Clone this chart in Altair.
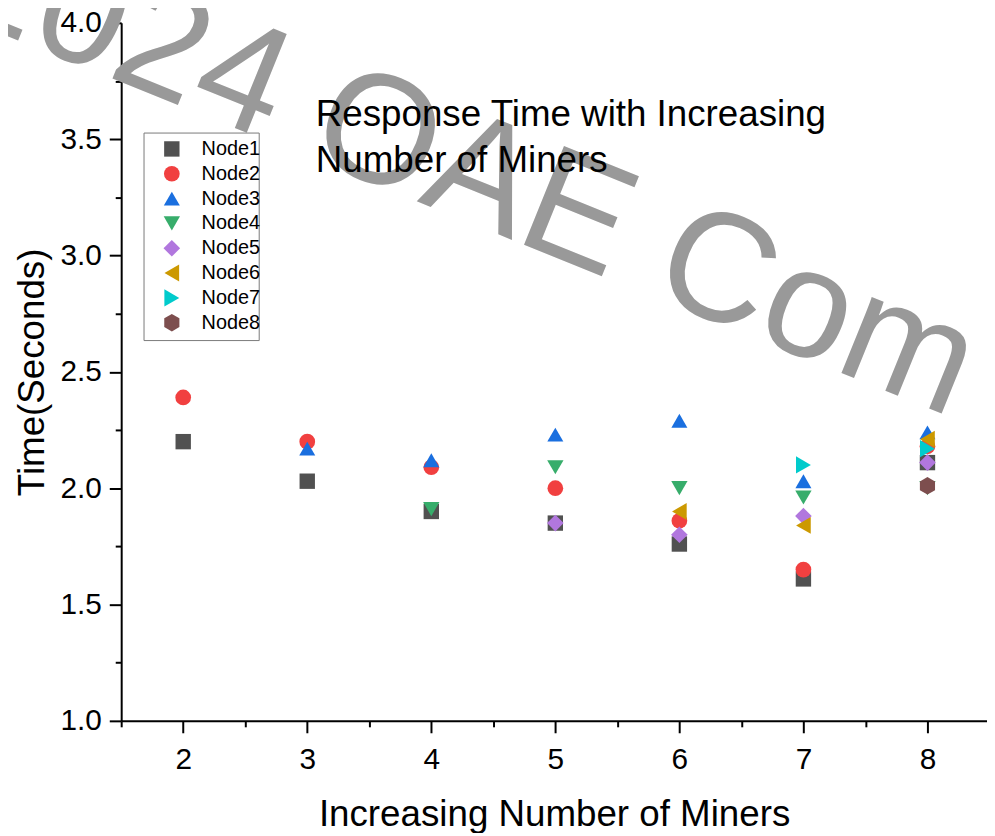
import altair as alt
import pandas as pd

# ---- data ----
miners = [2, 3, 4, 5, 6, 7, 8]
nodes = ["Node1", "Node2", "Node3", "Node4", "Node5", "Node6", "Node7", "Node8"]
node1 = [2.20, 2.03, 1.90, 1.85, 1.76, 1.61, 2.11]   # miners 2..8
node2 = [2.39, 2.20, 2.09, 2.00, 1.86, 1.65, 2.18]   # miners 2..8
node3 = [2.17, 2.12, 2.23, 2.29, 2.03, 2.24]         # miners 3..8
node4 = [1.91, 2.09, 2.00, 1.96, 2.00]               # miners 4..8
node5 = [1.85, 1.80, 1.88, 2.11]                     # miners 5..8
node6 = [1.90, 1.84, 2.21]                           # miners 6..8
node7 = [2.10, 2.17]                                 # miners 7..8
node8 = [2.01]                                       # miners 8

colors = ["#515151", "#F14040", "#1A6FDF", "#37AD6B", "#B177DE", "#CC9900", "#00CBCC", "#7D4E4E"]
hexagon = "M0,-1L0.866,-0.5L0.866,0.5L0,1L-0.866,0.5L-0.866,-0.5Z"
shapes = ["square", "circle", "triangle-up", "triangle-down", "diamond", "triangle-left", "triangle-right", hexagon]
sizes = [240, 310, 430, 430, 470, 430, 430, 520]

x_major = [2, 3, 4, 5, 6, 7, 8]
x_minor = [1.5, 2.5, 3.5, 4.5, 5.5, 6.5, 7.5]
y_major = [1.0, 1.5, 2.0, 2.5, 3.0, 3.5, 4.0]
y_minor = [1.25, 1.75, 2.25, 2.75, 3.25, 3.75]

title_text = "Response Time with Increasing\nNumber of Miners"
watermark = "2024 OAE Com"

series = [node1, node2, node3, node4, node5, node6, node7, node8]
rows = []
for name, vals in zip(nodes, series):
    xs = miners[len(miners) - len(vals):]
    for m, v in zip(xs, vals):
        rows.append({"miners": m, "time": v, "node": name})
df = pd.DataFrame(rows)

FONT = "Liberation Sans"
W, H = 872, 703
xscale = alt.Scale(domain=[1.5, 8.48], nice=False, zero=False)
yscale = alt.Scale(domain=[1.0, 4.0], nice=False, zero=False)

legend = alt.Legend(
    title=None, orient="none", legendX=41, legendY=117, padding=0,
    labelFont=FONT, labelFontSize=20, labelColor="black",
    symbolSize=300, rowPadding=5, symbolOffset=0, labelOffset=20,
    symbolStrokeWidth=0,
)

points = alt.Chart(df).mark_point(filled=True, opacity=1, strokeWidth=0).encode(
    x=alt.X("miners:Q", scale=xscale,
            axis=alt.Axis(values=x_major, format="d", orient="bottom",
                          title="Increasing Number of Miners",
                          labelPadding=12, titlePadding=22, titleFontSize=37)),
    y=alt.Y("time:Q", scale=yscale,
            axis=alt.Axis(values=y_major, format=".1f", orient="left",
                          title="Time(Seconds)", labelPadding=8, titlePadding=9,
                          titleFontSize=37)),
    color=alt.Color("node:N", scale=alt.Scale(domain=nodes, range=colors), legend=legend),
    shape=alt.Shape("node:N", scale=alt.Scale(domain=nodes, range=shapes), legend=legend),
    size=alt.Size("node:N", scale=alt.Scale(domain=nodes, range=sizes), legend=None),
)

minor = alt.Chart(df).mark_point(opacity=0).encode(
    x=alt.X("miners:Q", scale=xscale,
            axis=alt.Axis(values=x_minor, labels=False, domain=False, tickSize=6,
                          title=None, orient="bottom")),
    y=alt.Y("time:Q", scale=yscale,
            axis=alt.Axis(values=y_minor, labels=False, domain=False, tickSize=6,
                          title=None, orient="left")),
)

wm = alt.Chart(pd.DataFrame({"t": [watermark]})).mark_text(
    angle=22, align="left", baseline="alphabetic", fontSize=156,
    font=FONT, color="#999999"
).encode(text="t:N", x=alt.value(-55 - 122), y=alt.value(-12))

legend_box = alt.Chart(pd.DataFrame({"b": [0]})).mark_rect(
    fill="white", stroke="#7a7a7a", strokeWidth=1
).encode(x=alt.value(23), x2=alt.value(139), y=alt.value(111), y2=alt.value(320))

ttl = alt.Chart(pd.DataFrame({"t": [title_text]})).mark_text(
    align="left", baseline="alphabetic", fontSize=37, font=FONT,
    color="black", lineBreak="\n", lineHeight=46
).encode(text="t:N", x=alt.value(196), y=alt.value(104))

chart = alt.layer(wm, legend_box, points, minor, ttl).resolve_axis(
    x="independent", y="independent"
).properties(
    width=W, height=H,
    autosize=alt.AutoSizeParams(type="none"),
    padding={"left": 114, "top": 12, "right": 0, "bottom": 110},
).configure_view(stroke=None).configure_axis(
    domainColor="black", domainWidth=2, tickColor="black", tickWidth=2,
    tickSize=12, labelColor="black", titleColor="black",
    labelFont=FONT, titleFont=FONT, labelFontSize=30, titleFontSize=37,
    titleFontWeight="normal", grid=False,
)

chart.save("out.html", embed_options={"renderer": "svg", "actions": False})
